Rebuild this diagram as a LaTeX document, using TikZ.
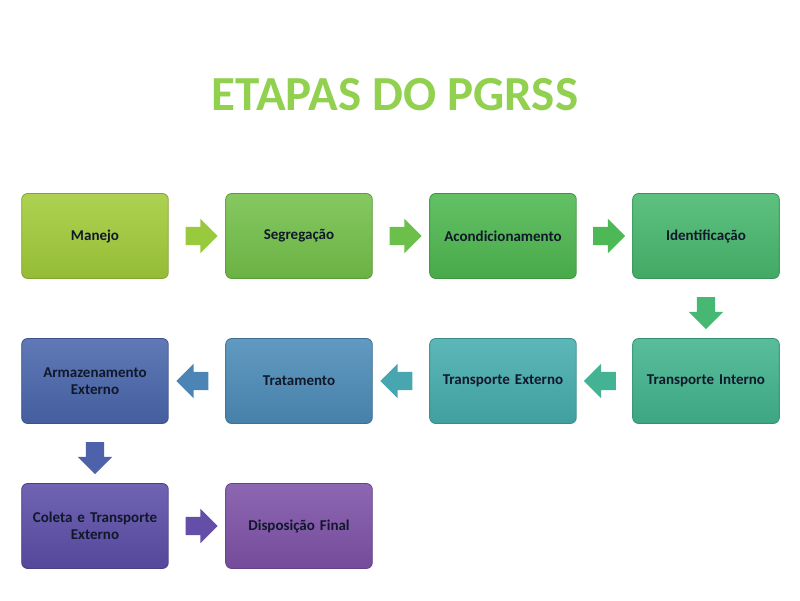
\documentclass[tikz,border=0pt]{standalone}
\usepackage{fontspec}
\setmainfont{Carlito}
\usetikzlibrary{shapes.arrows,positioning,calc}
\definecolor{titlegreen}{HTML}{92D050}
\definecolor{textnavy}{HTML}{10182A}
\definecolor{cA}{HTML}{A2CC3A}
\definecolor{cB}{HTML}{74C14A}
\definecolor{cC}{HTML}{4EB850}
\definecolor{cD}{HTML}{48B86E}
\definecolor{cE}{HTML}{42B48E}
\definecolor{cF}{HTML}{46ADAE}
\definecolor{cG}{HTML}{4C8CB8}
\definecolor{cH}{HTML}{4A66AC}
\definecolor{cI}{HTML}{5C4EA8}
\definecolor{cJ}{HTML}{7E52A8}
\tikzset{
  stage/.style={draw=#1!80!black, line width=0.8pt, rounded corners=6pt,
    top color=#1!88!white, bottom color=#1!92!black, minimum width=145pt,
    minimum height=85pt, text width=140pt, align=center,
    font=\fontsize{15}{17}\selectfont\bfseries, text=textnavy},
  flow/.style={single arrow, fill=#1, draw=none, text height=9pt,
    text depth=9pt, inner sep=0pt, single arrow head extend=8pt,
    minimum height=32pt}
}
\begin{document}
\begin{tikzpicture}[x=1pt,y=-1pt]
\useasboundingbox (0,0) rectangle (800,600);
\node[font=\fontsize{49}{52}\selectfont\bfseries, text=titlegreen] (title) at (395,95) {ETAPAS DO PGRSS};
%============
\node[stage=cA] (mane) at (95,236) {Manejo};
\node[stage=cB] (segr) at (299,236) {Segregação};
\node[stage=cC] (acon) at (503,236) {Acondicionamento};
\node[stage=cD] (iden) at (706,236) {Identificação};
\node[stage=cE] (tint) at (706,381) {Transporte Interno};
\node[stage=cF] (text) at (503,381) {Transporte Externo};
\node[stage=cG] (trat) at (299,381) {Tratamento};
\node[stage=cH] (arma) at (95,381) {Armazenamento\\Externo};
\node[stage=cI] (cole) at (95,526) {Coleta e Transporte\\Externo};
\node[stage=cJ] (disp) at (299,526) {Disposição Final};
%==========
\node[flow=cA!80!cB] at ($(mane)!0.5!(segr)$) {};
\node[flow=cB!80!cC] at ($(segr)!0.5!(acon)$) {};
\node[flow=cC!80!cD] at ($(acon)!0.5!(iden)$) {};
\node[flow=cD!80!cE, rotate=-90] at ($(iden)!0.5!(tint)$) {};
\node[flow=cE!80!cF, rotate=180] at ($(tint)!0.5!(text)$) {};
\node[flow=cF!80!cG, rotate=180] at ($(text)!0.5!(trat)$) {};
\node[flow=cG!80!cH, rotate=180] at ($(trat)!0.5!(arma)$) {};
\node[flow=cH!80!cI, rotate=-90] at ($(arma)!0.5!(cole)$) {};
\node[flow=cI!80!cJ] at ($(cole)!0.5!(disp)$) {};
\end{tikzpicture}
\end{document}
